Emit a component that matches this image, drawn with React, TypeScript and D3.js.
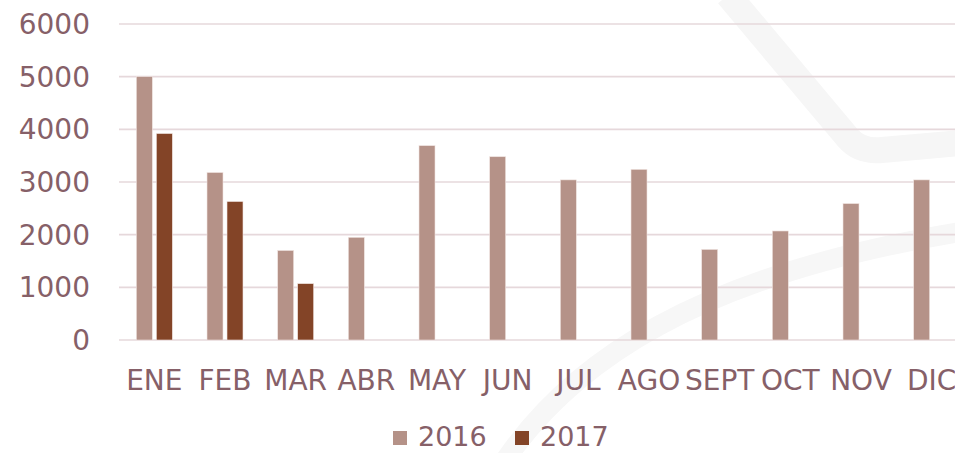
// @ts-nocheck
import * as d3 from "d3";
import React from "react";

const months = ["ENE", "FEB", "MAR", "ABR", "MAY", "JUN", "JUL", "AGO", "SEPT", "OCT", "NOV", "DIC"];
const series = ["2016", "2017"];
const values2016 = [5000, 3180, 1700, 1950, 3690, 3480, 3040, 3240, 1720, 2070, 2590, 3040];
const values2017 = [3920, 2630, 1070, null, null, null, null, null, null, null, null, null];
const yTicks = [0, 1000, 2000, 3000, 4000, 5000, 6000];

const colors = { "2016": "#b59288", "2017": "#834427" };
const textColor = "#866068";
const font = "'DejaVu Sans', sans-serif";

const App = () => {
  const width = 955;
  const height = 453;
  const x = d3.scaleBand(months, [119, 967]);
  const x1 = d3.scaleBand(series, [0, x.bandwidth()]).paddingInner(0.2).paddingOuter(0.867);
  const y = d3.scaleLinear([0, 6000], [340, 24]);
  const rows = months.map((m, i) => ({ m, "2016": values2016[i], "2017": values2017[i] }));

  return (
    <svg width={width} height={height} style={{ position: "absolute", left: 0, top: 0 }}>
      <rect width={width} height={height} fill="#ffffff" />
      {/* faint background swooshes */}
      <g fill="none" strokeLinecap="butt">
        <path d="M 728 -5 L 848 138 Q 860 152 882 150 L 960 143" stroke="#f6f6f6" strokeWidth={26} />
        <path d="M 500 468 C 570 360, 700 275, 960 232" stroke="#f7f7f7" strokeWidth={20} />
      </g>
      <g stroke="#e6d8db" strokeWidth={1.6}>
        {yTicks.map((t) => (
          <line key={t} x1={119} x2={width} y1={y(t)} y2={y(t)} />
        ))}
      </g>
      <g fontFamily={font} fontSize={28} fill={textColor} textAnchor="end">
        {yTicks.map((t) => (
          <text key={t} x={90} y={y(t)} dy="0.36em">{t}</text>
        ))}
      </g>
      {rows.map((r) => (
        <g key={r.m} transform={`translate(${x(r.m)},0)`}>
          {series.map((s) =>
            r[s] == null ? null : (
              <rect
                key={s}
                x={x1(s)}
                y={y(r[s])}
                width={x1.bandwidth()}
                height={y(0) - y(r[s])}
                fill={colors[s]}
                stroke="#f0e4e1"
                strokeWidth={0.6}
              />
            )
          )}
        </g>
      ))}
      <g fontFamily={font} fontSize={28} fill={textColor} textAnchor="middle">
        {months.map((m) => (
          <text key={m} x={x(m) + x.bandwidth() / 2} y={390}>{m}</text>
        ))}
      </g>
      <g fontFamily={font} fontSize={27} fill={textColor}>
        {series.map((s, i) => (
          <g key={s} transform={`translate(${393 + i * 122},0)`}>
            <rect x={0} y={431} width={14} height={14} fill={colors[s]} />
            <text x={25} y={446}>{s}</text>
          </g>
        ))}
      </g>
    </svg>
  );
};

export default App;
